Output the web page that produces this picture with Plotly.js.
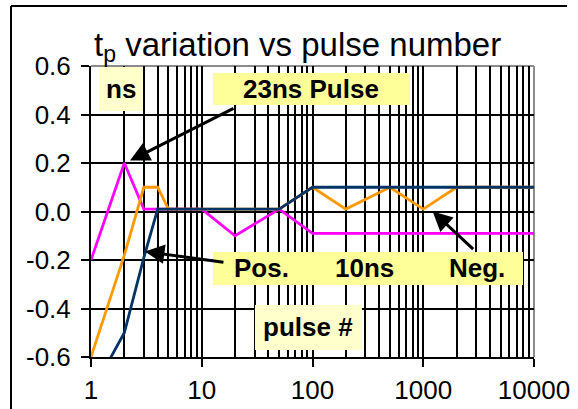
<!DOCTYPE html>
<html>
<head>
<meta charset="utf-8">
<script src="https://cdn.plot.ly/plotly-3.0.1.min.js"></script>
<style>html,body{margin:0;padding:0;background:#fff;}#chart{width:578px;height:409px;}</style>
</head>
<body>
<div id="chart"></div>
<script>
// ---- data ----
var pulseNumber = [1, 2, 3, 4, 5, 10, 20, 50, 100, 200, 500, 1000, 2000, 5000, 10000];
var pulse23ns   = [-0.2, 0.2, 0.01, 0.01, 0.01, 0.01, -0.1, 0.01, -0.09, -0.09, -0.09, -0.09, -0.09, -0.09, -0.09];
var pos10ns     = [-0.6, -0.18, 0.1, 0.1, 0.01, 0.01, 0.01, 0.01, 0.1, 0.01, 0.1, 0.01, 0.1, 0.1, 0.1];
var neg10ns     = [-0.75, -0.5, -0.19, 0.01, 0.01, 0.01, 0.01, 0.01, 0.1, 0.1, 0.1, 0.1, 0.1, 0.1, 0.1];
var xTickVals = [1, 10, 100, 1000, 10000];
var xTickText = ['1', '10', '100', '1000', '10000'];
var yTickVals = [-0.6, -0.4, -0.2, 0.0, 0.2, 0.4, 0.6];
var yTickText = ['-0.6', '-0.4', '-0.2', '0.0', '0.2', '0.4', '0.6'];

// ---- layout helpers (pixel -> paper) ----
var L = 91, R = 534, T = 66, B = 357;
function px(x) { return (x - L) / (R - L); }
function py(y) { return (B - y) / (B - T); }

var gridVals = [];
for (var d = 1; d <= 1000; d *= 10) {
  for (var k = 1; k <= 9; k++) {
    var v = k * d;
    if (v > 1 && v < 10000) gridVals.push(v);
  }
}

var FONT = 'Liberation Sans, Arial, sans-serif';

var traces = [
  {x: pulseNumber, y: pulse23ns, mode: 'lines', line: {color: '#FF00FF', width: 2.8}, xaxis: 'x', yaxis: 'y'},
  {x: pulseNumber, y: pos10ns, mode: 'lines', line: {color: '#FF9900', width: 2.8}, xaxis: 'x', yaxis: 'y'},
  {x: pulseNumber, y: neg10ns, mode: 'lines', line: {color: '#003366', width: 2.8}, xaxis: 'x', yaxis: 'y'}
];

function box(x0, y0, x1, y1, col) {
  return {type: 'rect', xref: 'paper', yref: 'paper', x0: px(x0), x1: px(x1), y0: py(y1), y1: py(y0),
          fillcolor: col, line: {width: 0}, layer: 'above'};
}
function label(txt, x, y, anchor) {
  return {text: '<b>' + txt + '</b>', xref: 'paper', yref: 'paper', x: px(x), y: py(y),
          xanchor: anchor || 'center', yanchor: 'middle', showarrow: false,
          font: {family: FONT, size: 26, color: '#000'}};
}
function arrow(xv, yv, ax, ay) {
  return {text: '', xref: 'x', yref: 'y', x: Math.log10(xv), y: yv, ax: ax, ay: ay,
          showarrow: true, arrowhead: 2, arrowsize: 1.3, arrowwidth: 3, arrowcolor: '#000'};
}

var layout = {
  width: 578, height: 409,
  margin: {l: L, r: 578 - R, t: T, b: 409 - B, pad: 0},
  paper_bgcolor: '#fff', plot_bgcolor: '#fff',
  showlegend: false,
  title: {text: 't<sub>p</sub> variation vs pulse number', xref: 'paper', x: px(94), xanchor: 'left',
          yref: 'container', y: 1 - 44 / 409, yanchor: 'middle',
          font: {family: FONT, size: 33, color: '#000'}},
  xaxis: {type: 'log', range: [0, 4], tickvals: gridVals, showticklabels: false, ticks: '',
          showgrid: true, gridcolor: '#000', gridwidth: 2, zeroline: false, showline: false, fixedrange: true},
  xaxis2: {type: 'log', range: [0, 4], overlaying: 'x', anchor: 'y', side: 'bottom',
           tickvals: xTickVals, ticktext: xTickText, ticks: 'outside', ticklen: 8, tickwidth: 2, tickcolor: '#000',
           showgrid: false, showline: true, linecolor: '#000', linewidth: 2, zeroline: false,
           ticklabelstandoff: 1,
           tickfont: {family: FONT, size: 26, color: '#000'}},
  yaxis: {range: [-0.6, 0.6], tickvals: yTickVals, ticktext: yTickText, ticks: 'outside', ticklen: 8,
          tickwidth: 2, tickcolor: '#000', showgrid: true, gridcolor: '#000', gridwidth: 2,
          zeroline: false, showline: true, linecolor: '#000', linewidth: 2, ticklabelstandoff: 5,
          tickfont: {family: FONT, size: 26, color: '#000'}},
  shapes: [
    // plot-area border (grey top and right)
    {type: 'line', xref: 'paper', yref: 'paper', x0: 0, x1: 1, y0: 1, y1: 1, line: {color: '#8c8c8c', width: 2}, layer: 'between'},
    {type: 'line', xref: 'paper', yref: 'paper', x0: 1, x1: 1, y0: 0, y1: 1, line: {color: '#8c8c8c', width: 2}, layer: 'between'},
    // outer chart frame
    {type: 'line', xref: 'paper', yref: 'paper', x0: px(11), x1: px(567), y0: py(6), y1: py(6), line: {color: '#000', width: 2}, layer: 'above'},
    {type: 'line', xref: 'paper', yref: 'paper', x0: px(11), x1: px(11), y0: py(6), y1: py(420), line: {color: '#000', width: 2}, layer: 'above'},
    box(99, 67, 143, 111, '#FFFFCC'),
    box(213, 73, 410, 105, '#FFFF99'),
    box(213, 252, 523, 285, '#FFFF99'),
    box(255, 305, 362, 350, '#FFFFCC')
  ],
  annotations: [
    label('ns', 121, 89),
    label('23ns Pulse', 311, 89),
    label('Pos.', 232, 268, 'left'),
    label('10ns', 333, 268, 'left'),
    label('Neg.', 447, 268, 'left'),
    label('pulse #', 308, 327),
    arrow(2.25, 0.21, 105, -53),
    arrow(3.07, -0.165, 80, 11),
    arrow(1217, 0.0, 42, 39)
  ]
};

// dummy trace to activate xaxis2
traces.push({x: [1], y: [null], xaxis: 'x2', yaxis: 'y', mode: 'lines', hoverinfo: 'skip'});

Plotly.newPlot('chart', traces, layout, {staticPlot: true, displayModeBar: false});
</script>
</body>
</html>
